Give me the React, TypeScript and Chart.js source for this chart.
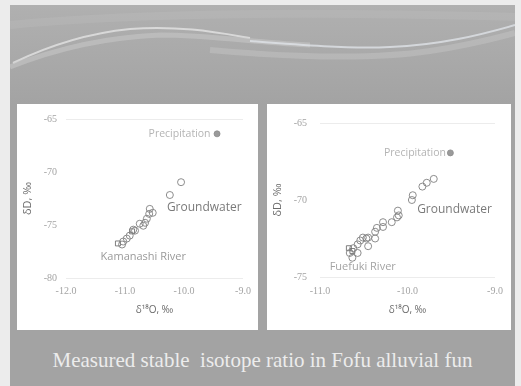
import { useEffect, useRef } from "react";
import { Chart, registerables } from "chart.js";

Chart.register(...registerables);

// Left panel: Kamanashi River area
const kamGroundwaterX = [-10.05, -10.24, -10.58, -10.53, -10.59, -10.63, -10.66, -10.75, -10.69, -10.83, -10.86, -10.92, -10.97, -11.03, -11.05];
const kamGroundwaterY = [-70.96, -72.17, -73.48, -73.85, -73.95, -74.41, -74.79, -74.88, -75.07, -75.53, -75.44, -76.0, -76.28, -76.56, -76.84];
const kamRiverX = [-11.12, -10.88];
const kamRiverY = [-76.74, -75.6];
const kamPrecipX = [-9.44];
const kamPrecipY = [-66.4];
const kamXTicks = [-12, -11, -10, -9];
const kamYTicks = [-65, -70, -75, -80];

// Right panel: Fuefuki River area
const fueGroundwaterX = [-9.7, -9.78, -9.83, -9.94, -9.95, -10.11, -10.1, -10.12, -10.18, -10.28, -10.28, -10.35, -10.37, -10.45, -10.47, -10.51, -10.54, -10.37, -10.45, -10.57, -10.62, -10.57, -10.66, -10.63];
const fueGroundwaterY = [-68.63, -68.88, -69.13, -69.69, -70.0, -70.69, -71.0, -71.13, -71.44, -71.44, -71.75, -71.81, -72.06, -72.44, -72.5, -72.44, -72.63, -72.5, -73.0, -72.88, -73.13, -73.44, -73.44, -73.75];
const fueRiverX = [-10.67, -10.63];
const fueRiverY = [-73.13, -73.31];
const fuePrecipX = [-9.51];
const fuePrecipY = [-66.94];
const fueXTicks = [-11, -10, -9];
const fueYTicks = [-65, -70, -75];

const caption = "Measured stable\u00a0 isotope ratio in Fofu alluvial fun";

type Note = { text: string; x: number; y: number; align: CanvasTextAlign; color: string; size: number };

const zip = (xs: number[], ys: number[]) => xs.map((x, i) => ({ x, y: ys[i] }));

const notesPlugin = {
  id: "notes",
  afterDatasetsDraw(chart: any, _args: any, opts: any) {
    const { ctx, scales } = chart;
    const notes: Note[] = opts.notes || [];
    ctx.save();
    notes.forEach((n) => {
      ctx.font = `${n.size}px "Open Sans", "Noto Sans", sans-serif`;
      ctx.fillStyle = n.color;
      ctx.textAlign = n.align;
      ctx.textBaseline = "middle";
      ctx.fillText(n.text, scales.x.getPixelForValue(n.x), scales.y.getPixelForValue(n.y));
    });
    ctx.restore();
  },
};

function makeConfig(p: {
  gwX: number[]; gwY: number[]; rvX: number[]; rvY: number[]; prX: number[]; prY: number[];
  xTicks: number[]; yTicks: number[]; yWidth: number; xHeight: number; padRight: number;
  yTickPad: number; xTickPad: number; notes: Note[];
}) {
  const xMin = Math.min(...p.xTicks), xMax = Math.max(...p.xTicks);
  const yMin = Math.min(...p.yTicks), yMax = Math.max(...p.yTicks);
  return {
    type: "scatter" as const,
    data: {
      datasets: [
        {
          label: "Groundwater",
          data: zip(p.gwX, p.gwY),
          pointStyle: "circle",
          pointRadius: 3.5,
          pointBorderWidth: 0.9,
          pointBorderColor: "#808080",
          pointBackgroundColor: "rgba(255,255,255,0)",
        },
        {
          label: "River",
          data: zip(p.rvX, p.rvY),
          pointStyle: "rect",
          pointRadius: 3.5,
          pointBorderWidth: 0.9,
          pointBorderColor: "#707070",
          pointBackgroundColor: "rgba(255,255,255,0)",
        },
        {
          label: "Precipitation",
          data: zip(p.prX, p.prY),
          pointStyle: "circle",
          pointRadius: 3,
          pointBorderWidth: 0.8,
          pointBorderColor: "#8c8c8c",
          pointBackgroundColor: "#9a9a9a",
        },
      ],
    },
    options: {
      responsive: false,
      devicePixelRatio: 1,
      animation: false as const,
      layout: { padding: { left: 0, top: 13, right: p.padRight, bottom: 0 } },
      plugins: {
        legend: { display: false },
        tooltip: { enabled: false },
        notes: { notes: p.notes },
      },
      scales: {
        x: {
          type: "linear" as const,
          min: xMin,
          max: xMax,
          afterFit: (a: any) => { a.height = p.xHeight; },
          afterBuildTicks: (a: any) => { a.ticks = p.xTicks.map((v) => ({ value: v })); },
          border: { display: false },
          grid: { display: false, drawTicks: false },
          ticks: {
            padding: p.xTickPad,
            color: "#a4a4a4",
            font: { family: '"Liberation Serif", serif', size: 10 },
            callback: (v: any) => Number(v).toFixed(1),
          },
          title: {
            display: true,
            text: "δ¹⁸O, ‰",
            color: "#6a6a6a",
            font: { family: '"Open Sans", "Noto Sans", sans-serif', size: 10 },
            padding: { top: 0, bottom: 14 },
          },
        },
        y: {
          type: "linear" as const,
          min: yMin,
          max: yMax,
          afterFit: (a: any) => { a.width = p.yWidth; },
          afterBuildTicks: (a: any) => { a.ticks = p.yTicks.map((v) => ({ value: v })); },
          border: { display: false },
          grid: {
            drawTicks: false,
            lineWidth: 1,
            color: (c: any) => (c.tick && (c.tick.value === yMin || c.tick.value === yMax) ? "#ececec" : "rgba(0,0,0,0)"),
          },
          ticks: {
            padding: p.yTickPad,
            color: "#a4a4a4",
            font: { family: '"Liberation Serif", serif', size: 10 },
            callback: (v: any) => String(v),
          },
          title: {
            display: true,
            text: "δD, ‰",
            color: "#6a6a6a",
            font: { family: '"Open Sans", "Noto Sans", sans-serif', size: 11 },
            padding: { top: 4, bottom: 0 },
          },
        },
      },
    },
    plugins: [notesPlugin],
  };
}

function Panel(props: { left: number; width: number; config: any }) {
  const ref = useRef<HTMLCanvasElement>(null);
  useEffect(() => {
    const chart = new Chart(ref.current as HTMLCanvasElement, props.config);
    return () => chart.destroy();
  }, []);
  return (
    <div style={{ position: "absolute", left: props.left, top: 104, width: props.width, height: 226, background: "#ffffff" }}>
      <canvas ref={ref} width={props.width} height={226} style={{ display: "block" }} />
    </div>
  );
}

export default function App() {
  const leftConfig = makeConfig({
    gwX: kamGroundwaterX, gwY: kamGroundwaterY, rvX: kamRiverX, rvY: kamRiverY, prX: kamPrecipX, prY: kamPrecipY,
    xTicks: kamXTicks, yTicks: kamYTicks, yWidth: 49, xHeight: 52, padRight: 15, yTickPad: 9, xTickPad: 7,
    notes: [
      { text: "Precipitation", x: -9.55, y: -66.4, align: "right", color: "#b4b4b4", size: 10.5 },
      { text: "Groundwater", x: -10.29, y: -73.4, align: "left", color: "#7a7a7a", size: 12 },
      { text: "Kamanashi River", x: -10.69, y: -78.05, align: "center", color: "#9a9a9a", size: 11 },
    ],
  });
  const rightConfig = makeConfig({
    gwX: fueGroundwaterX, gwY: fueGroundwaterY, rvX: fueRiverX, rvY: fueRiverY, prX: fuePrecipX, prY: fuePrecipY,
    xTicks: fueXTicks, yTicks: fueYTicks, yWidth: 53, xHeight: 53, padRight: 16, yTickPad: 13, xTickPad: 8,
    notes: [
      { text: "Precipitation", x: -9.56, y: -66.94, align: "right", color: "#b4b4b4", size: 10.5 },
      { text: "Groundwater", x: -9.89, y: -70.63, align: "left", color: "#7a7a7a", size: 12 },
      { text: "Fuefuki River", x: -10.89, y: -74.31, align: "left", color: "#a4a4a4", size: 11 },
    ],
  });
  return (
    <div style={{ position: "fixed", left: 0, top: 0, width: 521, height: 386, background: "#ececec", overflow: "hidden" }}>
      <div style={{ position: "absolute", left: 10, top: 5, width: 505, height: 381, background: "#a3a3a3" }}>
        <div style={{ position: "absolute", left: 0, top: 0, width: 505, height: 99, background: "linear-gradient(180deg, #b0b0b0 0%, #a9a9a9 55%, #a3a3a3 100%)" }} />
        <svg width={505} height={100} style={{ position: "absolute", left: 0, top: 0 }}>
          <path d="M 3 58 C 40 40, 80 28, 120 24 C 170 20, 210 28, 240 33" stroke="rgba(235,235,235,0.7)" strokeWidth={2} fill="none" />
          <path d="M 0 62 C 50 42, 100 32, 150 30 C 200 30, 250 38, 300 40" stroke="rgba(200,200,200,0.55)" strokeWidth={5} fill="none" />
          <path d="M 240 36 C 290 40, 340 44, 380 42 C 430 40, 470 30, 505 20" stroke="rgba(225,230,235,0.75)" strokeWidth={2} fill="none" />
          <path d="M 200 45 C 280 52, 360 55, 420 46 C 460 40, 490 32, 505 28" stroke="rgba(195,195,195,0.5)" strokeWidth={6} fill="none" />
          <path d="M 0 20 C 100 10, 250 5, 505 12" stroke="rgba(190,190,190,0.35)" strokeWidth={8} fill="none" />
        </svg>
      </div>
      <Panel left={17} width={241} config={leftConfig} />
      <Panel left={267} width={244} config={rightConfig} />
      <div
        style={{
          position: "absolute",
          left: 10,
          width: 505,
          top: 347,
          textAlign: "center",
          fontFamily: '"Liberation Serif", serif',
          fontSize: 21,
          color: "#ececec",
          whiteSpace: "pre",
          lineHeight: "26px",
        }}
      >
        {caption}
      </div>
    </div>
  );
}
